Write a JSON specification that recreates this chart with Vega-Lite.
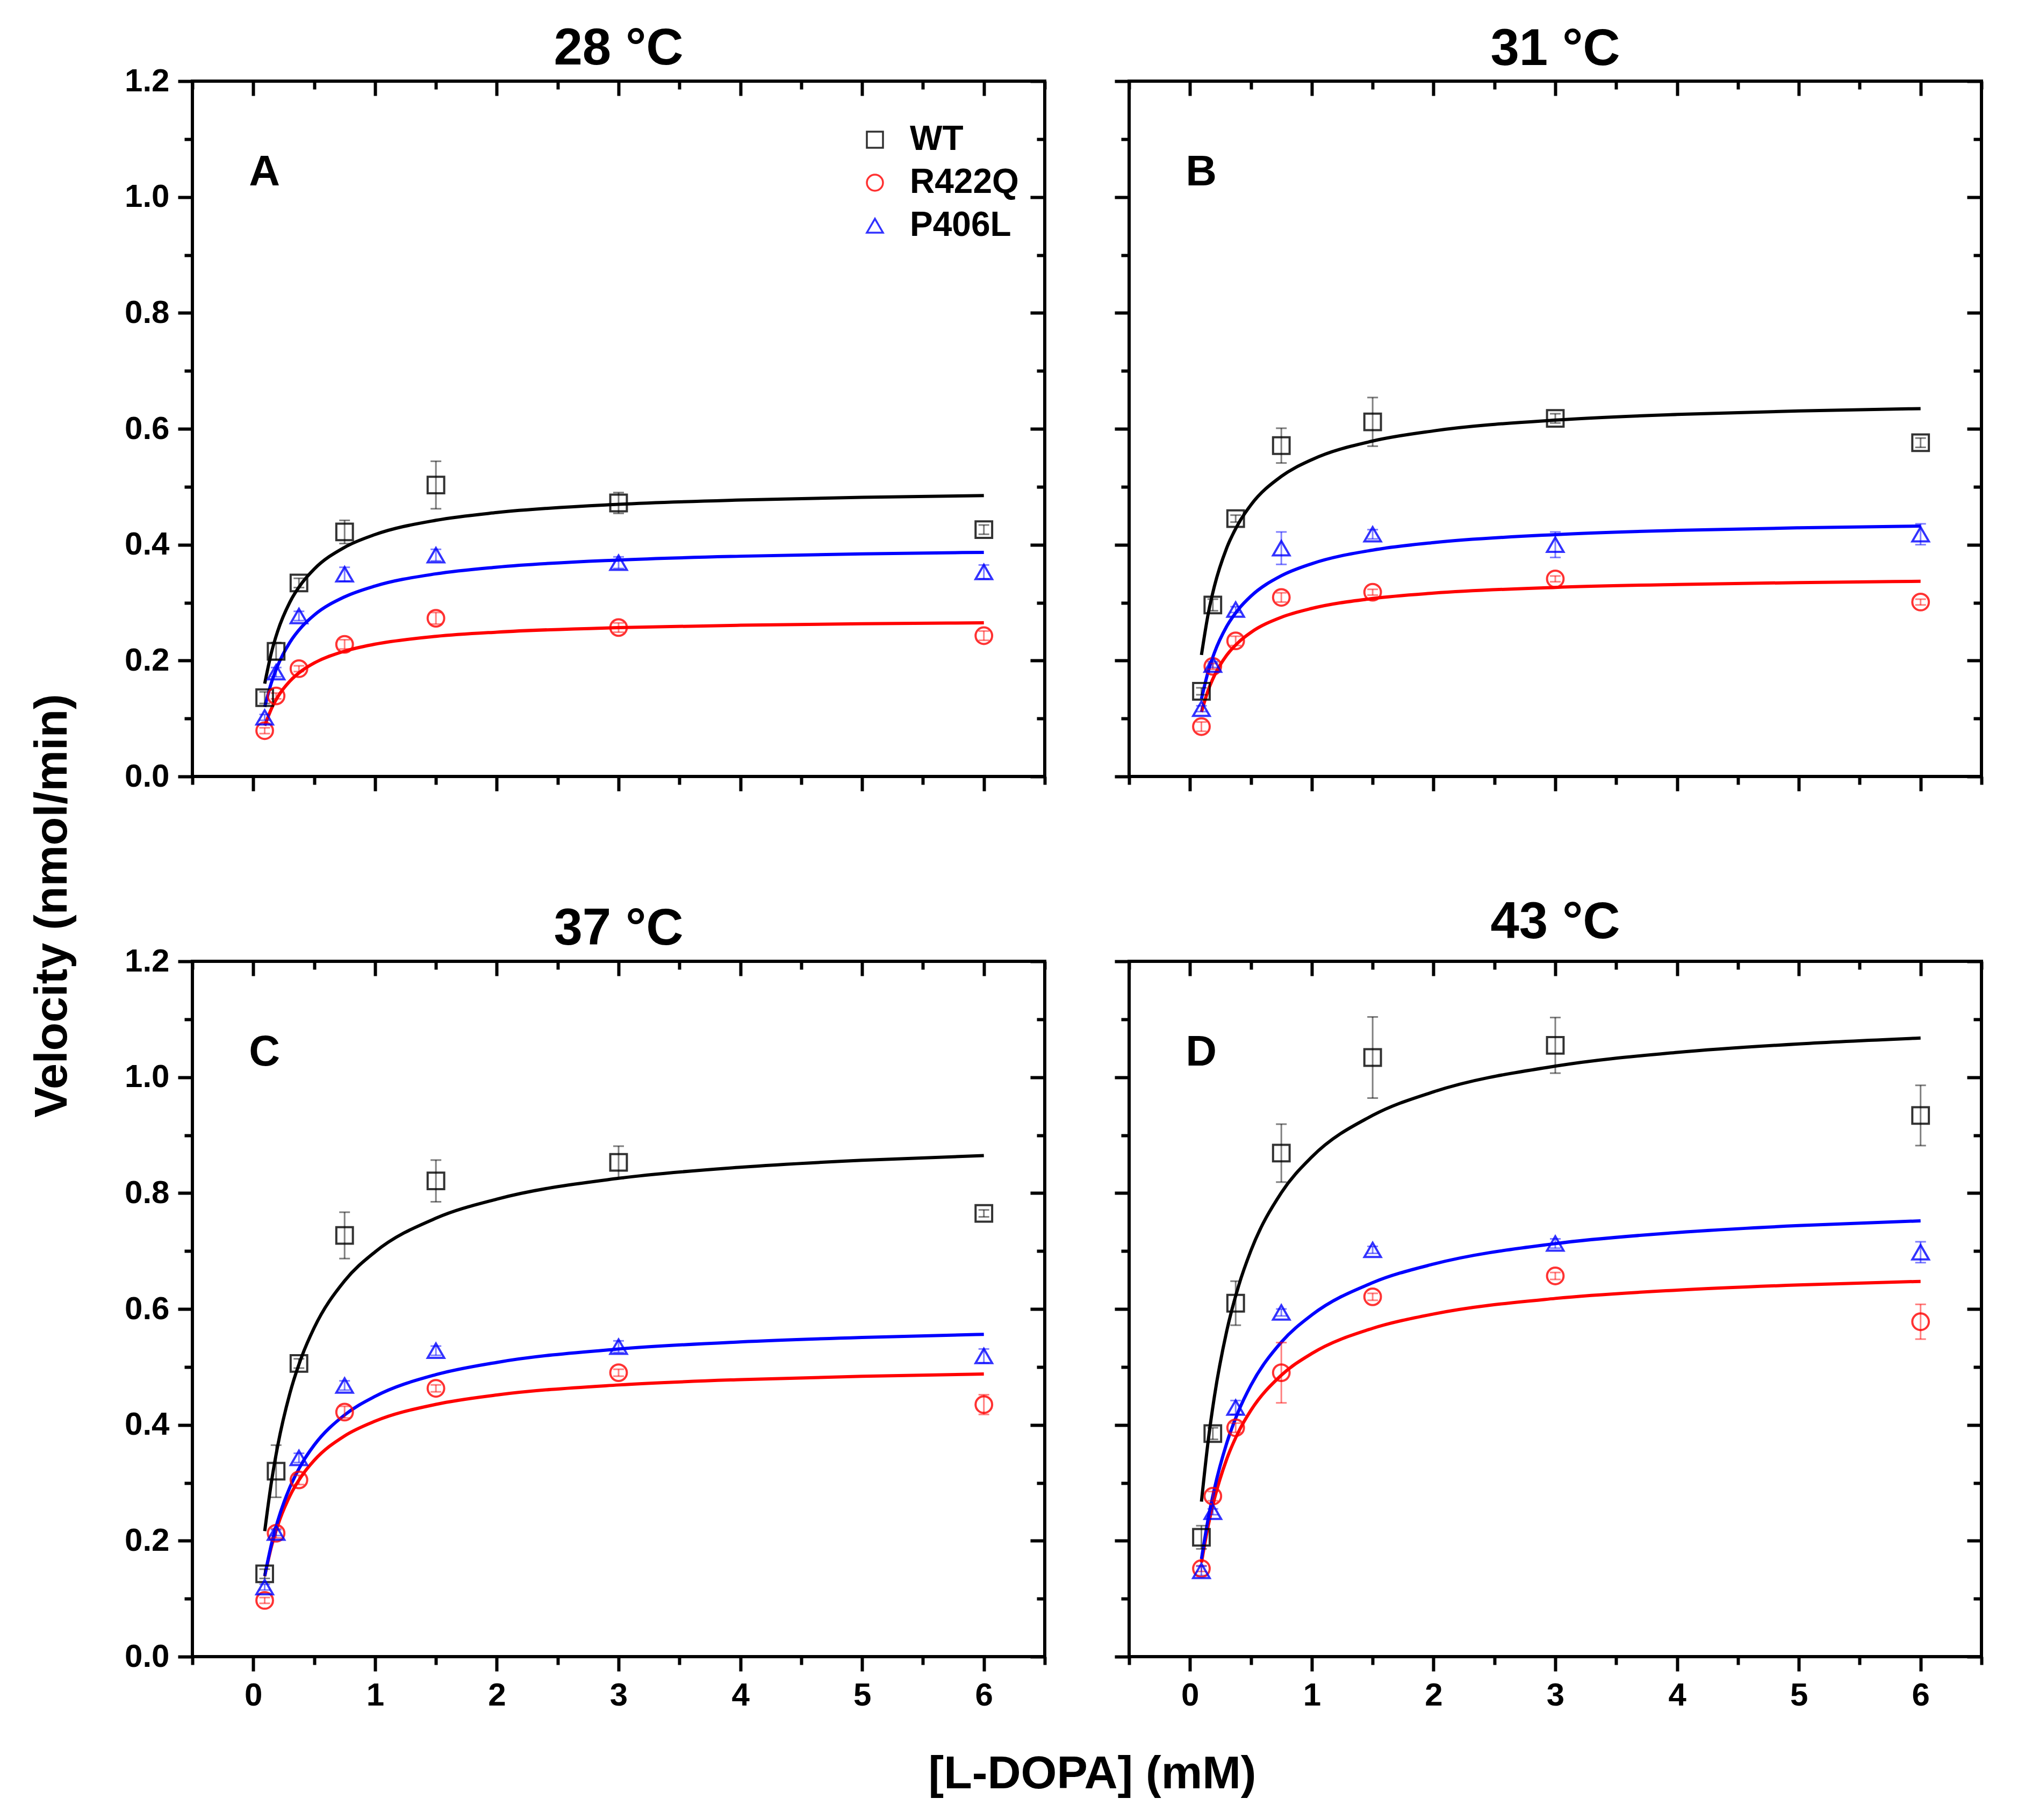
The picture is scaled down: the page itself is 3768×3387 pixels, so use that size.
{
  "$schema": "https://vega.github.io/schema/vega-lite/v6.json",
  "padding": {"left": 51, "top": 40, "right": 40, "bottom": 40},
  "background": "white",
  "datasets": {
    "pts": [
      {"panel": "A", "enzyme": "WT", "x": 0.09375, "v": 0.136, "err": 0.01},
      {"panel": "A", "enzyme": "WT", "x": 0.1875, "v": 0.216, "err": 0.015},
      {"panel": "A", "enzyme": "WT", "x": 0.375, "v": 0.334, "err": 0.008},
      {"panel": "A", "enzyme": "WT", "x": 0.75, "v": 0.422, "err": 0.02},
      {"panel": "A", "enzyme": "WT", "x": 1.5, "v": 0.503, "err": 0.041},
      {"panel": "A", "enzyme": "WT", "x": 3, "v": 0.472, "err": 0.018},
      {"panel": "A", "enzyme": "WT", "x": 6, "v": 0.426, "err": 0.008},
      {"panel": "A", "enzyme": "R422Q", "x": 0.09375, "v": 0.079, "err": 0.005},
      {"panel": "A", "enzyme": "R422Q", "x": 0.1875, "v": 0.139, "err": 0.005},
      {"panel": "A", "enzyme": "R422Q", "x": 0.375, "v": 0.186, "err": 0.005},
      {"panel": "A", "enzyme": "R422Q", "x": 0.75, "v": 0.228, "err": 0.008},
      {"panel": "A", "enzyme": "R422Q", "x": 1.5, "v": 0.273, "err": 0.01},
      {"panel": "A", "enzyme": "R422Q", "x": 3, "v": 0.257, "err": 0.008},
      {"panel": "A", "enzyme": "R422Q", "x": 6, "v": 0.243, "err": 0.008},
      {"panel": "A", "enzyme": "P406L", "x": 0.09375, "v": 0.102, "err": 0.005},
      {"panel": "A", "enzyme": "P406L", "x": 0.1875, "v": 0.18, "err": 0.008},
      {"panel": "A", "enzyme": "P406L", "x": 0.375, "v": 0.277, "err": 0.008},
      {"panel": "A", "enzyme": "P406L", "x": 0.75, "v": 0.349, "err": 0.012},
      {"panel": "A", "enzyme": "P406L", "x": 1.5, "v": 0.382, "err": 0.01},
      {"panel": "A", "enzyme": "P406L", "x": 3, "v": 0.369, "err": 0.01},
      {"panel": "A", "enzyme": "P406L", "x": 6, "v": 0.353, "err": 0.012},
      {"panel": "B", "enzyme": "WT", "x": 0.09375, "v": 0.147, "err": 0.006},
      {"panel": "B", "enzyme": "WT", "x": 0.1875, "v": 0.296, "err": 0.01},
      {"panel": "B", "enzyme": "WT", "x": 0.375, "v": 0.445, "err": 0.006},
      {"panel": "B", "enzyme": "WT", "x": 0.75, "v": 0.571, "err": 0.03},
      {"panel": "B", "enzyme": "WT", "x": 1.5, "v": 0.612, "err": 0.042},
      {"panel": "B", "enzyme": "WT", "x": 3, "v": 0.618, "err": 0.008},
      {"panel": "B", "enzyme": "WT", "x": 6, "v": 0.576, "err": 0.008},
      {"panel": "B", "enzyme": "R422Q", "x": 0.09375, "v": 0.086, "err": 0.008},
      {"panel": "B", "enzyme": "R422Q", "x": 0.1875, "v": 0.19, "err": 0.005},
      {"panel": "B", "enzyme": "R422Q", "x": 0.375, "v": 0.234, "err": 0.008},
      {"panel": "B", "enzyme": "R422Q", "x": 0.75, "v": 0.309, "err": 0.008},
      {"panel": "B", "enzyme": "R422Q", "x": 1.5, "v": 0.318, "err": 0.005},
      {"panel": "B", "enzyme": "R422Q", "x": 3, "v": 0.341, "err": 0.005},
      {"panel": "B", "enzyme": "R422Q", "x": 6, "v": 0.301, "err": 0.005},
      {"panel": "B", "enzyme": "P406L", "x": 0.09375, "v": 0.117, "err": 0.005},
      {"panel": "B", "enzyme": "P406L", "x": 0.1875, "v": 0.193, "err": 0.005},
      {"panel": "B", "enzyme": "P406L", "x": 0.375, "v": 0.288, "err": 0.005},
      {"panel": "B", "enzyme": "P406L", "x": 0.75, "v": 0.394, "err": 0.028},
      {"panel": "B", "enzyme": "P406L", "x": 1.5, "v": 0.418, "err": 0.008},
      {"panel": "B", "enzyme": "P406L", "x": 3, "v": 0.4, "err": 0.022},
      {"panel": "B", "enzyme": "P406L", "x": 6, "v": 0.418, "err": 0.018},
      {"panel": "C", "enzyme": "WT", "x": 0.09375, "v": 0.143, "err": 0.008},
      {"panel": "C", "enzyme": "WT", "x": 0.1875, "v": 0.32, "err": 0.045},
      {"panel": "C", "enzyme": "WT", "x": 0.375, "v": 0.506, "err": 0.008},
      {"panel": "C", "enzyme": "WT", "x": 0.75, "v": 0.727, "err": 0.04},
      {"panel": "C", "enzyme": "WT", "x": 1.5, "v": 0.821, "err": 0.036},
      {"panel": "C", "enzyme": "WT", "x": 3, "v": 0.853, "err": 0.028},
      {"panel": "C", "enzyme": "WT", "x": 6, "v": 0.765, "err": 0.006},
      {"panel": "C", "enzyme": "R422Q", "x": 0.09375, "v": 0.097, "err": 0.005},
      {"panel": "C", "enzyme": "R422Q", "x": 0.1875, "v": 0.213, "err": 0.008},
      {"panel": "C", "enzyme": "R422Q", "x": 0.375, "v": 0.305, "err": 0.008},
      {"panel": "C", "enzyme": "R422Q", "x": 0.75, "v": 0.422, "err": 0.01},
      {"panel": "C", "enzyme": "R422Q", "x": 1.5, "v": 0.463, "err": 0.006},
      {"panel": "C", "enzyme": "R422Q", "x": 3, "v": 0.49, "err": 0.006},
      {"panel": "C", "enzyme": "R422Q", "x": 6, "v": 0.435, "err": 0.017},
      {"panel": "C", "enzyme": "P406L", "x": 0.09375, "v": 0.12, "err": 0.005},
      {"panel": "C", "enzyme": "P406L", "x": 0.1875, "v": 0.214, "err": 0.005},
      {"panel": "C", "enzyme": "P406L", "x": 0.375, "v": 0.343, "err": 0.008},
      {"panel": "C", "enzyme": "P406L", "x": 0.75, "v": 0.468, "err": 0.008},
      {"panel": "C", "enzyme": "P406L", "x": 1.5, "v": 0.528, "err": 0.008},
      {"panel": "C", "enzyme": "P406L", "x": 3, "v": 0.535, "err": 0.01},
      {"panel": "C", "enzyme": "P406L", "x": 6, "v": 0.519, "err": 0.012},
      {"panel": "D", "enzyme": "WT", "x": 0.09375, "v": 0.206, "err": 0.02},
      {"panel": "D", "enzyme": "WT", "x": 0.1875, "v": 0.385, "err": 0.01},
      {"panel": "D", "enzyme": "WT", "x": 0.375, "v": 0.61, "err": 0.038},
      {"panel": "D", "enzyme": "WT", "x": 0.75, "v": 0.869, "err": 0.05},
      {"panel": "D", "enzyme": "WT", "x": 1.5, "v": 1.034, "err": 0.07},
      {"panel": "D", "enzyme": "WT", "x": 3, "v": 1.055, "err": 0.048},
      {"panel": "D", "enzyme": "WT", "x": 6, "v": 0.934, "err": 0.052},
      {"panel": "D", "enzyme": "R422Q", "x": 0.09375, "v": 0.152, "err": 0.005},
      {"panel": "D", "enzyme": "R422Q", "x": 0.1875, "v": 0.277, "err": 0.008},
      {"panel": "D", "enzyme": "R422Q", "x": 0.375, "v": 0.395, "err": 0.008},
      {"panel": "D", "enzyme": "R422Q", "x": 0.75, "v": 0.49, "err": 0.052},
      {"panel": "D", "enzyme": "R422Q", "x": 1.5, "v": 0.621, "err": 0.006},
      {"panel": "D", "enzyme": "R422Q", "x": 3, "v": 0.657, "err": 0.006},
      {"panel": "D", "enzyme": "R422Q", "x": 6, "v": 0.578, "err": 0.03},
      {"panel": "D", "enzyme": "P406L", "x": 0.09375, "v": 0.148, "err": 0.008},
      {"panel": "D", "enzyme": "P406L", "x": 0.1875, "v": 0.25, "err": 0.005},
      {"panel": "D", "enzyme": "P406L", "x": 0.375, "v": 0.43, "err": 0.012},
      {"panel": "D", "enzyme": "P406L", "x": 0.75, "v": 0.594, "err": 0.006},
      {"panel": "D", "enzyme": "P406L", "x": 1.5, "v": 0.702, "err": 0.006},
      {"panel": "D", "enzyme": "P406L", "x": 3, "v": 0.713, "err": 0.008},
      {"panel": "D", "enzyme": "P406L", "x": 6, "v": 0.698, "err": 0.018}
    ],
    "fit": [
      {"panel": "A", "enzyme": "WT", "x": 0.094, "v": 0.1602}, {"panel": "A", "enzyme": "WT", "x": 0.15, "v": 0.2147},
      {"panel": "A", "enzyme": "WT", "x": 0.2, "v": 0.2505}, {"panel": "A", "enzyme": "WT", "x": 0.3, "v": 0.3006},
      {"panel": "A", "enzyme": "WT", "x": 0.4, "v": 0.334}, {"panel": "A", "enzyme": "WT", "x": 0.5, "v": 0.3579},
      {"panel": "A", "enzyme": "WT", "x": 0.75, "v": 0.3955}, {"panel": "A", "enzyme": "WT", "x": 1, "v": 0.4175},
      {"panel": "A", "enzyme": "WT", "x": 1.5, "v": 0.4421}, {"panel": "A", "enzyme": "WT", "x": 2, "v": 0.4555},
      {"panel": "A", "enzyme": "WT", "x": 3, "v": 0.4697}, {"panel": "A", "enzyme": "WT", "x": 4, "v": 0.4771},
      {"panel": "A", "enzyme": "WT", "x": 5, "v": 0.4817}, {"panel": "A", "enzyme": "WT", "x": 6, "v": 0.4848},
      {"panel": "A", "enzyme": "R422Q", "x": 0.094, "v": 0.0876}, {"panel": "A", "enzyme": "R422Q", "x": 0.15, "v": 0.1174},
      {"panel": "A", "enzyme": "R422Q", "x": 0.2, "v": 0.137}, {"panel": "A", "enzyme": "R422Q", "x": 0.3, "v": 0.1644},
      {"panel": "A", "enzyme": "R422Q", "x": 0.4, "v": 0.1827}, {"panel": "A", "enzyme": "R422Q", "x": 0.5, "v": 0.1957},
      {"panel": "A", "enzyme": "R422Q", "x": 0.75, "v": 0.2163}, {"panel": "A", "enzyme": "R422Q", "x": 1, "v": 0.2283},
      {"panel": "A", "enzyme": "R422Q", "x": 1.5, "v": 0.2418}, {"panel": "A", "enzyme": "R422Q", "x": 2, "v": 0.2491},
      {"panel": "A", "enzyme": "R422Q", "x": 3, "v": 0.2569}, {"panel": "A", "enzyme": "R422Q", "x": 4, "v": 0.261},
      {"panel": "A", "enzyme": "R422Q", "x": 5, "v": 0.2635}, {"panel": "A", "enzyme": "R422Q", "x": 6, "v": 0.2652},
      {"panel": "A", "enzyme": "P406L", "x": 0.094, "v": 0.12}, {"panel": "A", "enzyme": "P406L", "x": 0.15, "v": 0.1626},
      {"panel": "A", "enzyme": "P406L", "x": 0.2, "v": 0.191}, {"panel": "A", "enzyme": "P406L", "x": 0.3, "v": 0.2313},
      {"panel": "A", "enzyme": "P406L", "x": 0.4, "v": 0.2587}, {"panel": "A", "enzyme": "P406L", "x": 0.5, "v": 0.2785},
      {"panel": "A", "enzyme": "P406L", "x": 0.75, "v": 0.31}, {"panel": "A", "enzyme": "P406L", "x": 1, "v": 0.3287},
      {"panel": "A", "enzyme": "P406L", "x": 1.5, "v": 0.3497}, {"panel": "A", "enzyme": "P406L", "x": 2, "v": 0.3613},
      {"panel": "A", "enzyme": "P406L", "x": 3, "v": 0.3736}, {"panel": "A", "enzyme": "P406L", "x": 4, "v": 0.3801},
      {"panel": "A", "enzyme": "P406L", "x": 5, "v": 0.3841}, {"panel": "A", "enzyme": "P406L", "x": 6, "v": 0.3868},
      {"panel": "B", "enzyme": "WT", "x": 0.094, "v": 0.2097}, {"panel": "B", "enzyme": "WT", "x": 0.15, "v": 0.2812},
      {"panel": "B", "enzyme": "WT", "x": 0.2, "v": 0.328}, {"panel": "B", "enzyme": "WT", "x": 0.3, "v": 0.3936},
      {"panel": "B", "enzyme": "WT", "x": 0.4, "v": 0.4373}, {"panel": "B", "enzyme": "WT", "x": 0.5, "v": 0.4686},
      {"panel": "B", "enzyme": "WT", "x": 0.75, "v": 0.5179}, {"panel": "B", "enzyme": "WT", "x": 1, "v": 0.5467},
      {"panel": "B", "enzyme": "WT", "x": 1.5, "v": 0.5789}, {"panel": "B", "enzyme": "WT", "x": 2, "v": 0.5964},
      {"panel": "B", "enzyme": "WT", "x": 3, "v": 0.615}, {"panel": "B", "enzyme": "WT", "x": 4, "v": 0.6248},
      {"panel": "B", "enzyme": "WT", "x": 5, "v": 0.6308}, {"panel": "B", "enzyme": "WT", "x": 6, "v": 0.6348},
      {"panel": "B", "enzyme": "R422Q", "x": 0.094, "v": 0.1113}, {"panel": "B", "enzyme": "R422Q", "x": 0.15, "v": 0.1492},
      {"panel": "B", "enzyme": "R422Q", "x": 0.2, "v": 0.174}, {"panel": "B", "enzyme": "R422Q", "x": 0.3, "v": 0.2088},
      {"panel": "B", "enzyme": "R422Q", "x": 0.4, "v": 0.232}, {"panel": "B", "enzyme": "R422Q", "x": 0.5, "v": 0.2486},
      {"panel": "B", "enzyme": "R422Q", "x": 0.75, "v": 0.2747}, {"panel": "B", "enzyme": "R422Q", "x": 1, "v": 0.29},
      {"panel": "B", "enzyme": "R422Q", "x": 1.5, "v": 0.3071}, {"panel": "B", "enzyme": "R422Q", "x": 2, "v": 0.3164},
      {"panel": "B", "enzyme": "R422Q", "x": 3, "v": 0.3263}, {"panel": "B", "enzyme": "R422Q", "x": 4, "v": 0.3314},
      {"panel": "B", "enzyme": "R422Q", "x": 5, "v": 0.3346}, {"panel": "B", "enzyme": "R422Q", "x": 6, "v": 0.3368},
      {"panel": "B", "enzyme": "P406L", "x": 0.094, "v": 0.1341}, {"panel": "B", "enzyme": "P406L", "x": 0.15, "v": 0.1816},
      {"panel": "B", "enzyme": "P406L", "x": 0.2, "v": 0.2133}, {"panel": "B", "enzyme": "P406L", "x": 0.3, "v": 0.2585},
      {"panel": "B", "enzyme": "P406L", "x": 0.4, "v": 0.2891}, {"panel": "B", "enzyme": "P406L", "x": 0.5, "v": 0.3111},
      {"panel": "B", "enzyme": "P406L", "x": 0.75, "v": 0.3464}, {"panel": "B", "enzyme": "P406L", "x": 1, "v": 0.3672},
      {"panel": "B", "enzyme": "P406L", "x": 1.5, "v": 0.3907}, {"panel": "B", "enzyme": "P406L", "x": 2, "v": 0.4036},
      {"panel": "B", "enzyme": "P406L", "x": 3, "v": 0.4174}, {"panel": "B", "enzyme": "P406L", "x": 4, "v": 0.4247},
      {"panel": "B", "enzyme": "P406L", "x": 5, "v": 0.4291}, {"panel": "B", "enzyme": "P406L", "x": 6, "v": 0.4321},
      {"panel": "C", "enzyme": "WT", "x": 0.094, "v": 0.2166}, {"panel": "C", "enzyme": "WT", "x": 0.15, "v": 0.3027},
      {"panel": "C", "enzyme": "WT", "x": 0.2, "v": 0.3632}, {"panel": "C", "enzyme": "WT", "x": 0.3, "v": 0.454},
      {"panel": "C", "enzyme": "WT", "x": 0.4, "v": 0.5189}, {"panel": "C", "enzyme": "WT", "x": 0.5, "v": 0.5675},
      {"panel": "C", "enzyme": "WT", "x": 0.75, "v": 0.6486}, {"panel": "C", "enzyme": "WT", "x": 1, "v": 0.6984},
      {"panel": "C", "enzyme": "WT", "x": 1.5, "v": 0.7567}, {"panel": "C", "enzyme": "WT", "x": 2, "v": 0.7896},
      {"panel": "C", "enzyme": "WT", "x": 3, "v": 0.8255}, {"panel": "C", "enzyme": "WT", "x": 4, "v": 0.8446},
      {"panel": "C", "enzyme": "WT", "x": 5, "v": 0.8566}, {"panel": "C", "enzyme": "WT", "x": 6, "v": 0.8648},
      {"panel": "C", "enzyme": "R422Q", "x": 0.094, "v": 0.1388}, {"panel": "C", "enzyme": "R422Q", "x": 0.15, "v": 0.1905},
      {"panel": "C", "enzyme": "R422Q", "x": 0.2, "v": 0.2258}, {"panel": "C", "enzyme": "R422Q", "x": 0.3, "v": 0.2771},
      {"panel": "C", "enzyme": "R422Q", "x": 0.4, "v": 0.3126}, {"panel": "C", "enzyme": "R422Q", "x": 0.5, "v": 0.3387},
      {"panel": "C", "enzyme": "R422Q", "x": 0.75, "v": 0.381}, {"panel": "C", "enzyme": "R422Q", "x": 1, "v": 0.4064},
      {"panel": "C", "enzyme": "R422Q", "x": 1.5, "v": 0.4354}, {"panel": "C", "enzyme": "R422Q", "x": 2, "v": 0.4516},
      {"panel": "C", "enzyme": "R422Q", "x": 3, "v": 0.4689}, {"panel": "C", "enzyme": "R422Q", "x": 4, "v": 0.4781},
      {"panel": "C", "enzyme": "R422Q", "x": 5, "v": 0.4838}, {"panel": "C", "enzyme": "R422Q", "x": 6, "v": 0.4877},
      {"panel": "C", "enzyme": "P406L", "x": 0.094, "v": 0.1393}, {"panel": "C", "enzyme": "P406L", "x": 0.15, "v": 0.1947},
      {"panel": "C", "enzyme": "P406L", "x": 0.2, "v": 0.2336}, {"panel": "C", "enzyme": "P406L", "x": 0.3, "v": 0.292},
      {"panel": "C", "enzyme": "P406L", "x": 0.4, "v": 0.3337}, {"panel": "C", "enzyme": "P406L", "x": 0.5, "v": 0.365},
      {"panel": "C", "enzyme": "P406L", "x": 0.75, "v": 0.4171}, {"panel": "C", "enzyme": "P406L", "x": 1, "v": 0.4492},
      {"panel": "C", "enzyme": "P406L", "x": 1.5, "v": 0.4867}, {"panel": "C", "enzyme": "P406L", "x": 2, "v": 0.5078},
      {"panel": "C", "enzyme": "P406L", "x": 3, "v": 0.5309}, {"panel": "C", "enzyme": "P406L", "x": 4, "v": 0.5432},
      {"panel": "C", "enzyme": "P406L", "x": 5, "v": 0.5509}, {"panel": "C", "enzyme": "P406L", "x": 6, "v": 0.5562},
      {"panel": "D", "enzyme": "WT", "x": 0.094, "v": 0.2675}, {"panel": "D", "enzyme": "WT", "x": 0.15, "v": 0.3736},
      {"panel": "D", "enzyme": "WT", "x": 0.2, "v": 0.4484}, {"panel": "D", "enzyme": "WT", "x": 0.3, "v": 0.5605},
      {"panel": "D", "enzyme": "WT", "x": 0.4, "v": 0.6405}, {"panel": "D", "enzyme": "WT", "x": 0.5, "v": 0.7006},
      {"panel": "D", "enzyme": "WT", "x": 0.75, "v": 0.8007}, {"panel": "D", "enzyme": "WT", "x": 1, "v": 0.8623},
      {"panel": "D", "enzyme": "WT", "x": 1.5, "v": 0.9341}, {"panel": "D", "enzyme": "WT", "x": 2, "v": 0.9748},
      {"panel": "D", "enzyme": "WT", "x": 3, "v": 1.0191}, {"panel": "D", "enzyme": "WT", "x": 4, "v": 1.0428},
      {"panel": "D", "enzyme": "WT", "x": 5, "v": 1.0575}, {"panel": "D", "enzyme": "WT", "x": 6, "v": 1.0676},
      {"panel": "D", "enzyme": "R422Q", "x": 0.094, "v": 0.1622}, {"panel": "D", "enzyme": "R422Q", "x": 0.15, "v": 0.2266},
      {"panel": "D", "enzyme": "R422Q", "x": 0.2, "v": 0.272}, {"panel": "D", "enzyme": "R422Q", "x": 0.3, "v": 0.34},
      {"panel": "D", "enzyme": "R422Q", "x": 0.4, "v": 0.3886}, {"panel": "D", "enzyme": "R422Q", "x": 0.5, "v": 0.425},
      {"panel": "D", "enzyme": "R422Q", "x": 0.75, "v": 0.4857}, {"panel": "D", "enzyme": "R422Q", "x": 1, "v": 0.5231},
      {"panel": "D", "enzyme": "R422Q", "x": 1.5, "v": 0.5666}, {"panel": "D", "enzyme": "R422Q", "x": 2, "v": 0.5913},
      {"panel": "D", "enzyme": "R422Q", "x": 3, "v": 0.6182}, {"panel": "D", "enzyme": "R422Q", "x": 4, "v": 0.6325},
      {"panel": "D", "enzyme": "R422Q", "x": 5, "v": 0.6415}, {"panel": "D", "enzyme": "R422Q", "x": 6, "v": 0.6476},
      {"panel": "D", "enzyme": "P406L", "x": 0.094, "v": 0.1685}, {"panel": "D", "enzyme": "P406L", "x": 0.15, "v": 0.2388},
      {"panel": "D", "enzyme": "P406L", "x": 0.2, "v": 0.2894}, {"panel": "D", "enzyme": "P406L", "x": 0.3, "v": 0.3674},
      {"panel": "D", "enzyme": "P406L", "x": 0.4, "v": 0.4245}, {"panel": "D", "enzyme": "P406L", "x": 0.5, "v": 0.4682},
      {"panel": "D", "enzyme": "P406L", "x": 0.75, "v": 0.5427}, {"panel": "D", "enzyme": "P406L", "x": 1, "v": 0.5896},
      {"panel": "D", "enzyme": "P406L", "x": 1.5, "v": 0.6454}, {"panel": "D", "enzyme": "P406L", "x": 2, "v": 0.6775},
      {"panel": "D", "enzyme": "P406L", "x": 3, "v": 0.7128}, {"panel": "D", "enzyme": "P406L", "x": 4, "v": 0.7319},
      {"panel": "D", "enzyme": "P406L", "x": 5, "v": 0.7439}, {"panel": "D", "enzyme": "P406L", "x": 6, "v": 0.7521}
    ]
  },
  "columns": 2,
  "bounds": "flush",
  "spacing": {"row": 344, "column": 157},
  "resolve": {"legend": {"color": "independent", "shape": "independent"}},
  "concat": [
    {
      "width": 1586, "height": 1294,
      "title": {"text": "28 °C", "offset": -19},
      "resolve": {"axis": {"x": "independent", "y": "independent"}, "legend": {"color": "independent", "shape": "independent"}},
      "layer": [
        {
          "data": {"name": "fit"},
          "transform": [{"filter": "datum.panel == 'A'"}],
          "mark": {"type": "line", "interpolate": "monotone", "strokeWidth": 6},
          "encoding": {
            "x": {"field": "x", "type": "quantitative", "scale": {"domain": [-0.5, 6.5], "nice": false, "zero": false},
              "axis": {"orient": "bottom", "values": [-0.5, 0, 0.5, 1, 1.5, 2, 2.5, 3, 3.5, 4, 4.5, 5, 5.5, 6, 6.5], "tickSize": {"condition": {"test": "datum.value % 1 == 0", "value": 27}, "value": 15}, "labels": false, "title": null}},
            "y": {"field": "v", "type": "quantitative", "scale": {"domain": [0, 1.2], "nice": false, "zero": false},
              "axis": {"orient": "left", "values": [0, 0.1, 0.2, 0.3, 0.4, 0.5, 0.6, 0.7, 0.8, 0.9, 1.0, 1.1, 1.2], "tickSize": {"condition": {"test": "round(datum.value * 10) % 2 == 0", "value": 27}, "value": 15}, "labelExpr": "round(datum.value * 10) % 2 == 0 ? format(datum.value, '.1f') : ''", "title": "Velocity (nmol/min)", "titleY": 1534, "titlePadding": 90}},
            "color": {"field": "enzyme", "type": "nominal", "scale": {"domain": ["WT", "R422Q", "P406L"], "range": ["#000000", "#ff0000", "#0000ff"]}, "legend": null}
          }
        },
        {
          "data": {"name": "pts"},
          "transform": [{"filter": "datum.panel == 'A'"}],
          "mark": {"type": "errorbar", "ticks": true, "size": 20, "thickness": 3, "opacity": 0.5},
          "encoding": {
            "x": {"field": "x", "type": "quantitative", "scale": {"domain": [-0.5, 6.5], "nice": false, "zero": false}, "axis": null},
            "y": {"field": "v", "type": "quantitative", "scale": {"domain": [0, 1.2], "nice": false, "zero": false}, "axis": null},
            "yError": {"field": "err"},
            "color": {"field": "enzyme", "type": "nominal", "scale": {"domain": ["WT", "R422Q", "P406L"], "range": ["#000000", "#ff0000", "#0000ff"]}, "legend": null}
          }
        },
        {
          "data": {"name": "pts"},
          "transform": [{"filter": "datum.panel == 'A'"}],
          "mark": {"type": "point", "filled": false, "size": 950, "strokeWidth": 4, "opacity": 0.8},
          "encoding": {
            "x": {"field": "x", "type": "quantitative", "scale": {"domain": [-0.5, 6.5], "nice": false, "zero": false},
              "axis": {"orient": "top", "values": [0, 1, 2, 3, 4, 5, 6], "tickSize": 27, "offset": -27, "labels": false, "title": null}},
            "y": {"field": "v", "type": "quantitative", "scale": {"domain": [0, 1.2], "nice": false, "zero": false},
              "axis": {"orient": "right", "values": [0, 0.2, 0.4, 0.6, 0.8, 1.0, 1.2], "tickSize": 27, "offset": -27, "labels": false, "title": null}},
            "color": {"field": "enzyme", "type": "nominal", "scale": {"domain": ["WT", "R422Q", "P406L"], "range": ["#000000", "#ff0000", "#0000ff"]},
              "legend": {"orient": "none", "legendX": 1238, "legendY": 77, "title": null, "padding": 0, "rowPadding": 16, "labelOffset": 33, "labelLimit": 0, "labelFontSize": 64, "labelFont": "Liberation Sans", "labelFontWeight": "bold", "labelColor": "black", "symbolSize": 900, "symbolStrokeWidth": 3.5}},
            "shape": {"field": "enzyme", "type": "nominal", "scale": {"domain": ["WT", "R422Q", "P406L"], "range": ["square", "circle", "triangle-up"]},
              "legend": {"orient": "none", "legendX": 1238, "legendY": 77, "title": null, "padding": 0, "rowPadding": 16, "labelOffset": 33, "labelLimit": 0, "labelFontSize": 64, "labelFont": "Liberation Sans", "labelFontWeight": "bold", "labelColor": "black", "symbolSize": 900, "symbolStrokeWidth": 3.5}}
          }
        },
        {
          "data": {"values": [{"label": "A"}]},
          "mark": {"type": "text", "align": "left", "baseline": "alphabetic", "fontSize": 80, "fontWeight": "bold", "font": "Liberation Sans", "color": "black"},
          "encoding": {
            "x": {"datum": -0.035, "type": "quantitative", "scale": {"domain": [-0.5, 6.5], "nice": false, "zero": false},
              "axis": {"orient": "top", "values": [-0.5, 0.5, 1.5, 2.5, 3.5, 4.5, 5.5, 6.5], "tickSize": 15, "offset": -15, "labels": false, "title": null}},
            "y": {"datum": 1.02, "type": "quantitative", "scale": {"domain": [0, 1.2], "nice": false, "zero": false},
              "axis": {"orient": "right", "values": [0.1, 0.3, 0.5, 0.7, 0.9, 1.1], "tickSize": 15, "offset": -15, "labels": false, "title": null}},
            "text": {"field": "label"}
          }
        }
      ]
    },
    {
      "width": 1586, "height": 1294,
      "title": {"text": "31 °C", "offset": 7},
      "resolve": {"axis": {"x": "independent", "y": "independent"}},
      "layer": [
        {
          "data": {"name": "fit"},
          "transform": [{"filter": "datum.panel == 'B'"}],
          "mark": {"type": "line", "interpolate": "monotone", "strokeWidth": 6},
          "encoding": {
            "x": {"field": "x", "type": "quantitative", "scale": {"domain": [-0.5, 6.5], "nice": false, "zero": false},
              "axis": {"orient": "bottom", "values": [-0.5, 0, 0.5, 1, 1.5, 2, 2.5, 3, 3.5, 4, 4.5, 5, 5.5, 6, 6.5], "tickSize": {"condition": {"test": "datum.value % 1 == 0", "value": 27}, "value": 15}, "labels": false, "title": null}},
            "y": {"field": "v", "type": "quantitative", "scale": {"domain": [0, 1.2], "nice": false, "zero": false},
              "axis": {"orient": "left", "values": [0, 0.1, 0.2, 0.3, 0.4, 0.5, 0.6, 0.7, 0.8, 0.9, 1.0, 1.1, 1.2], "tickSize": {"condition": {"test": "round(datum.value * 10) % 2 == 0", "value": 27}, "value": 15}, "labels": false, "title": null}},
            "color": {"field": "enzyme", "type": "nominal", "scale": {"domain": ["WT", "R422Q", "P406L"], "range": ["#000000", "#ff0000", "#0000ff"]}, "legend": null}
          }
        },
        {
          "data": {"name": "pts"},
          "transform": [{"filter": "datum.panel == 'B'"}],
          "mark": {"type": "errorbar", "ticks": true, "size": 20, "thickness": 3, "opacity": 0.5},
          "encoding": {
            "x": {"field": "x", "type": "quantitative", "scale": {"domain": [-0.5, 6.5], "nice": false, "zero": false}, "axis": null},
            "y": {"field": "v", "type": "quantitative", "scale": {"domain": [0, 1.2], "nice": false, "zero": false}, "axis": null},
            "yError": {"field": "err"},
            "color": {"field": "enzyme", "type": "nominal", "scale": {"domain": ["WT", "R422Q", "P406L"], "range": ["#000000", "#ff0000", "#0000ff"]}, "legend": null}
          }
        },
        {
          "data": {"name": "pts"},
          "transform": [{"filter": "datum.panel == 'B'"}],
          "mark": {"type": "point", "filled": false, "size": 950, "strokeWidth": 4, "opacity": 0.8},
          "encoding": {
            "x": {"field": "x", "type": "quantitative", "scale": {"domain": [-0.5, 6.5], "nice": false, "zero": false},
              "axis": {"orient": "top", "values": [0, 1, 2, 3, 4, 5, 6], "tickSize": 27, "offset": -27, "labels": false, "title": null}},
            "y": {"field": "v", "type": "quantitative", "scale": {"domain": [0, 1.2], "nice": false, "zero": false},
              "axis": {"orient": "right", "values": [0, 0.2, 0.4, 0.6, 0.8, 1.0, 1.2], "tickSize": 27, "offset": -27, "labels": false, "title": null}},
            "color": {"field": "enzyme", "type": "nominal", "scale": {"domain": ["WT", "R422Q", "P406L"], "range": ["#000000", "#ff0000", "#0000ff"]}, "legend": null},
            "shape": {"field": "enzyme", "type": "nominal", "scale": {"domain": ["WT", "R422Q", "P406L"], "range": ["square", "circle", "triangle-up"]}, "legend": null}
          }
        },
        {
          "data": {"values": [{"label": "B"}]},
          "mark": {"type": "text", "align": "left", "baseline": "alphabetic", "fontSize": 80, "fontWeight": "bold", "font": "Liberation Sans", "color": "black"},
          "encoding": {
            "x": {"datum": -0.035, "type": "quantitative", "scale": {"domain": [-0.5, 6.5], "nice": false, "zero": false},
              "axis": {"orient": "top", "values": [-0.5, 0.5, 1.5, 2.5, 3.5, 4.5, 5.5, 6.5], "tickSize": 15, "offset": -15, "labels": false, "title": null}},
            "y": {"datum": 1.02, "type": "quantitative", "scale": {"domain": [0, 1.2], "nice": false, "zero": false},
              "axis": {"orient": "right", "values": [0.1, 0.3, 0.5, 0.7, 0.9, 1.1], "tickSize": 15, "offset": -15, "labels": false, "title": null}},
            "text": {"field": "label"}
          }
        }
      ]
    },
    {
      "width": 1586, "height": 1294,
      "title": {"text": "37 °C", "offset": -19},
      "resolve": {"axis": {"x": "independent", "y": "independent"}},
      "layer": [
        {
          "data": {"name": "fit"},
          "transform": [{"filter": "datum.panel == 'C'"}],
          "mark": {"type": "line", "interpolate": "monotone", "strokeWidth": 6},
          "encoding": {
            "x": {"field": "x", "type": "quantitative", "scale": {"domain": [-0.5, 6.5], "nice": false, "zero": false},
              "axis": {"orient": "bottom", "values": [-0.5, 0, 0.5, 1, 1.5, 2, 2.5, 3, 3.5, 4, 4.5, 5, 5.5, 6, 6.5], "tickSize": {"condition": {"test": "datum.value % 1 == 0", "value": 27}, "value": 15}, "labelExpr": "datum.value % 1 == 0 ? format(datum.value, 'd') : ''", "title": "[L-DOPA] (mM)", "titleX": 1674, "titlePadding": 74}},
            "y": {"field": "v", "type": "quantitative", "scale": {"domain": [0, 1.2], "nice": false, "zero": false},
              "axis": {"orient": "left", "values": [0, 0.1, 0.2, 0.3, 0.4, 0.5, 0.6, 0.7, 0.8, 0.9, 1.0, 1.1, 1.2], "tickSize": {"condition": {"test": "round(datum.value * 10) % 2 == 0", "value": 27}, "value": 15}, "labelExpr": "round(datum.value * 10) % 2 == 0 ? format(datum.value, '.1f') : ''", "title": null}},
            "color": {"field": "enzyme", "type": "nominal", "scale": {"domain": ["WT", "R422Q", "P406L"], "range": ["#000000", "#ff0000", "#0000ff"]}, "legend": null}
          }
        },
        {
          "data": {"name": "pts"},
          "transform": [{"filter": "datum.panel == 'C'"}],
          "mark": {"type": "errorbar", "ticks": true, "size": 20, "thickness": 3, "opacity": 0.5},
          "encoding": {
            "x": {"field": "x", "type": "quantitative", "scale": {"domain": [-0.5, 6.5], "nice": false, "zero": false}, "axis": null},
            "y": {"field": "v", "type": "quantitative", "scale": {"domain": [0, 1.2], "nice": false, "zero": false}, "axis": null},
            "yError": {"field": "err"},
            "color": {"field": "enzyme", "type": "nominal", "scale": {"domain": ["WT", "R422Q", "P406L"], "range": ["#000000", "#ff0000", "#0000ff"]}, "legend": null}
          }
        },
        {
          "data": {"name": "pts"},
          "transform": [{"filter": "datum.panel == 'C'"}],
          "mark": {"type": "point", "filled": false, "size": 950, "strokeWidth": 4, "opacity": 0.8},
          "encoding": {
            "x": {"field": "x", "type": "quantitative", "scale": {"domain": [-0.5, 6.5], "nice": false, "zero": false},
              "axis": {"orient": "top", "values": [0, 1, 2, 3, 4, 5, 6], "tickSize": 27, "offset": -27, "labels": false, "title": null}},
            "y": {"field": "v", "type": "quantitative", "scale": {"domain": [0, 1.2], "nice": false, "zero": false},
              "axis": {"orient": "right", "values": [0, 0.2, 0.4, 0.6, 0.8, 1.0, 1.2], "tickSize": 27, "offset": -27, "labels": false, "title": null}},
            "color": {"field": "enzyme", "type": "nominal", "scale": {"domain": ["WT", "R422Q", "P406L"], "range": ["#000000", "#ff0000", "#0000ff"]}, "legend": null},
            "shape": {"field": "enzyme", "type": "nominal", "scale": {"domain": ["WT", "R422Q", "P406L"], "range": ["square", "circle", "triangle-up"]}, "legend": null}
          }
        },
        {
          "data": {"values": [{"label": "C"}]},
          "mark": {"type": "text", "align": "left", "baseline": "alphabetic", "fontSize": 80, "fontWeight": "bold", "font": "Liberation Sans", "color": "black"},
          "encoding": {
            "x": {"datum": -0.035, "type": "quantitative", "scale": {"domain": [-0.5, 6.5], "nice": false, "zero": false},
              "axis": {"orient": "top", "values": [-0.5, 0.5, 1.5, 2.5, 3.5, 4.5, 5.5, 6.5], "tickSize": 15, "offset": -15, "labels": false, "title": null}},
            "y": {"datum": 1.02, "type": "quantitative", "scale": {"domain": [0, 1.2], "nice": false, "zero": false},
              "axis": {"orient": "right", "values": [0.1, 0.3, 0.5, 0.7, 0.9, 1.1], "tickSize": 15, "offset": -15, "labels": false, "title": null}},
            "text": {"field": "label"}
          }
        }
      ]
    },
    {
      "width": 1586, "height": 1294,
      "title": {"text": "43 °C", "offset": 20},
      "resolve": {"axis": {"x": "independent", "y": "independent"}},
      "layer": [
        {
          "data": {"name": "fit"},
          "transform": [{"filter": "datum.panel == 'D'"}],
          "mark": {"type": "line", "interpolate": "monotone", "strokeWidth": 6},
          "encoding": {
            "x": {"field": "x", "type": "quantitative", "scale": {"domain": [-0.5, 6.5], "nice": false, "zero": false},
              "axis": {"orient": "bottom", "values": [-0.5, 0, 0.5, 1, 1.5, 2, 2.5, 3, 3.5, 4, 4.5, 5, 5.5, 6, 6.5], "tickSize": {"condition": {"test": "datum.value % 1 == 0", "value": 27}, "value": 15}, "labelExpr": "datum.value % 1 == 0 ? format(datum.value, 'd') : ''", "title": null}},
            "y": {"field": "v", "type": "quantitative", "scale": {"domain": [0, 1.2], "nice": false, "zero": false},
              "axis": {"orient": "left", "values": [0, 0.1, 0.2, 0.3, 0.4, 0.5, 0.6, 0.7, 0.8, 0.9, 1.0, 1.1, 1.2], "tickSize": {"condition": {"test": "round(datum.value * 10) % 2 == 0", "value": 27}, "value": 15}, "labels": false, "title": null}},
            "color": {"field": "enzyme", "type": "nominal", "scale": {"domain": ["WT", "R422Q", "P406L"], "range": ["#000000", "#ff0000", "#0000ff"]}, "legend": null}
          }
        },
        {
          "data": {"name": "pts"},
          "transform": [{"filter": "datum.panel == 'D'"}],
          "mark": {"type": "errorbar", "ticks": true, "size": 20, "thickness": 3, "opacity": 0.5},
          "encoding": {
            "x": {"field": "x", "type": "quantitative", "scale": {"domain": [-0.5, 6.5], "nice": false, "zero": false}, "axis": null},
            "y": {"field": "v", "type": "quantitative", "scale": {"domain": [0, 1.2], "nice": false, "zero": false}, "axis": null},
            "yError": {"field": "err"},
            "color": {"field": "enzyme", "type": "nominal", "scale": {"domain": ["WT", "R422Q", "P406L"], "range": ["#000000", "#ff0000", "#0000ff"]}, "legend": null}
          }
        },
        {
          "data": {"name": "pts"},
          "transform": [{"filter": "datum.panel == 'D'"}],
          "mark": {"type": "point", "filled": false, "size": 950, "strokeWidth": 4, "opacity": 0.8},
          "encoding": {
            "x": {"field": "x", "type": "quantitative", "scale": {"domain": [-0.5, 6.5], "nice": false, "zero": false},
              "axis": {"orient": "top", "values": [0, 1, 2, 3, 4, 5, 6], "tickSize": 27, "offset": -27, "labels": false, "title": null}},
            "y": {"field": "v", "type": "quantitative", "scale": {"domain": [0, 1.2], "nice": false, "zero": false},
              "axis": {"orient": "right", "values": [0, 0.2, 0.4, 0.6, 0.8, 1.0, 1.2], "tickSize": 27, "offset": -27, "labels": false, "title": null}},
            "color": {"field": "enzyme", "type": "nominal", "scale": {"domain": ["WT", "R422Q", "P406L"], "range": ["#000000", "#ff0000", "#0000ff"]}, "legend": null},
            "shape": {"field": "enzyme", "type": "nominal", "scale": {"domain": ["WT", "R422Q", "P406L"], "range": ["square", "circle", "triangle-up"]}, "legend": null}
          }
        },
        {
          "data": {"values": [{"label": "D"}]},
          "mark": {"type": "text", "align": "left", "baseline": "alphabetic", "fontSize": 80, "fontWeight": "bold", "font": "Liberation Sans", "color": "black"},
          "encoding": {
            "x": {"datum": -0.035, "type": "quantitative", "scale": {"domain": [-0.5, 6.5], "nice": false, "zero": false},
              "axis": {"orient": "top", "values": [-0.5, 0.5, 1.5, 2.5, 3.5, 4.5, 5.5, 6.5], "tickSize": 15, "offset": -15, "labels": false, "title": null}},
            "y": {"datum": 1.02, "type": "quantitative", "scale": {"domain": [0, 1.2], "nice": false, "zero": false},
              "axis": {"orient": "right", "values": [0.1, 0.3, 0.5, 0.7, 0.9, 1.1], "tickSize": 15, "offset": -15, "labels": false, "title": null}},
            "text": {"field": "label"}
          }
        }
      ]
    }
  ],
  "config": {
    "view": {"stroke": "black", "strokeWidth": 6},
    "font": "Liberation Sans",
    "axis": {
      "domain": false, "grid": false,
      "labelFont": "Liberation Sans", "labelFontWeight": "bold", "labelFontSize": 60, "labelColor": "black", "labelPadding": 16,
      "labelOverlap": false, "labelFlush": false,
      "tickColor": "black", "tickWidth": 6,
      "titleFont": "Liberation Sans", "titleFontWeight": "bold", "titleFontSize": 86, "titleColor": "black"
    },
    "title": {"font": "Liberation Sans", "fontSize": 96, "fontWeight": "bold", "color": "black", "baseline": "alphabetic", "anchor": "middle", "frame": "group"}
  }
}
